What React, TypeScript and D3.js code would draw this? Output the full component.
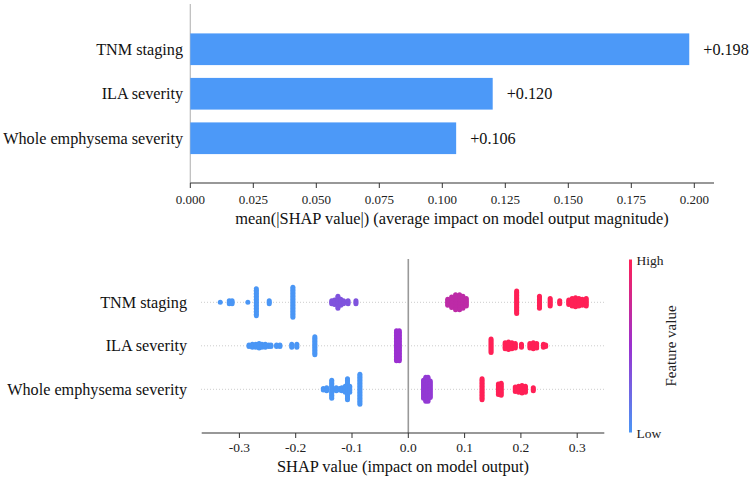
import React, { useEffect } from "react";
import * as d3 from "d3";

// ---- Top bar chart data ----
const barFeatures = ["TNM staging", "ILA severity", "Whole emphysema severity"];
const barValues = [0.198, 0.12, 0.1055];
const barLabels = ["+0.198", "+0.120", "+0.106"];
const barTicks = [0, 0.025, 0.05, 0.075, 0.1, 0.125, 0.15, 0.175, 0.2];

// ---- Beeswarm data: [shap value, number of points, feature value (0 low..1 high)] ----
const tnmClusters: [number, number, number][] = [
  [-0.334, 1, 0], [-0.318, 3, 0], [-0.313, 3, 0], [-0.285, 1, 0], [-0.27, 19, 0],
  [-0.247, 3, 0], [-0.205, 21, 0],
  [-0.136, 3, 0.33], [-0.131, 4, 0.33], [-0.125, 9, 0.33], [-0.12, 5, 0.33], [-0.115, 3, 0.33],
  [-0.107, 3, 0.33], [-0.093, 3, 0.33],
  [0.07, 5, 0.67], [0.077, 8, 0.67], [0.084, 11, 0.67], [0.091, 11, 0.67], [0.097, 9, 0.67], [0.103, 6, 0.67],
  [0.1925, 16, 1], [0.233, 9, 1], [0.252, 6, 1], [0.269, 3, 1], [0.285, 4, 1], [0.291, 6, 1],
  [0.297, 7, 1], [0.303, 6, 1], [0.309, 5, 1], [0.316, 6, 1],
];
const ilaClusters: [number, number, number][] = [
  [-0.283, 2, 0], [-0.277, 3, 0], [-0.271, 3, 0], [-0.265, 4, 0], [-0.26, 3, 0], [-0.254, 3, 0],
  [-0.248, 2, 0], [-0.244, 2, 0], [-0.234, 2, 0], [-0.228, 2, 0], [-0.207, 3, 0], [-0.198, 3, 0],
  [-0.166, 13, 0],
  [-0.021, 21, 0.5], [-0.016, 21, 0.5],
  [0.147, 10, 1], [0.172, 5, 1], [0.178, 6, 1], [0.184, 5, 1], [0.19, 4, 1], [0.201, 3, 1],
  [0.216, 4, 1], [0.222, 5, 1], [0.228, 4, 1], [0.24, 3, 1], [0.244, 2, 1],
];
const wholeClusters: [number, number, number][] = [
  [-0.151, 2, 0], [-0.145, 3, 0], [-0.136, 13, 0], [-0.128, 3, 0], [-0.122, 2, 0], [-0.118, 3, 0],
  [-0.112, 5, 0], [-0.108, 15, 0], [-0.104, 5, 0], [-0.086, 21, 0],
  [0.027, 13, 0.45], [0.031, 17, 0.45], [0.035, 17, 0.45], [0.039, 12, 0.45],
  [0.131, 15, 1], [0.16, 8, 1], [0.165, 9, 1], [0.19, 4, 1], [0.196, 5, 1], [0.202, 6, 1],
  [0.208, 5, 1], [0.222, 3, 1],
];
const swarmFeatures = ["TNM staging", "ILA severity", "Whole emphysema severity"];
const swarmData = [tnmClusters, ilaClusters, wholeClusters];
const swarmTicks = [-0.3, -0.2, -0.1, 0, 0.1, 0.2, 0.3];

const FONT = "'Liberation Serif', 'Times New Roman', serif";
const BAR_COLOR = "#4c99f8";

export default function App() {
  useEffect(() => {
    document.body.style.margin = "0";
  }, []);

  // top chart scales
  const xTop = d3.scaleLinear().domain([0, 0.2]).range([190.3, 694.3]);
  const yTop = d3.scaleBand().domain(barFeatures).range([27, 160.5]).paddingInner(0.288).paddingOuter(0.144);

  // bottom chart scales
  const xBot = d3.scaleLinear().domain([-0.3, 0.3]).range([239.4, 577.2]);
  const yBot = d3.scalePoint().domain(swarmFeatures).range([302.3, 389.3]);
  const color = d3
    .scaleLinear<string>()
    .domain([0, 0.5, 1])
    .range(["#4a96f5", "#9b30d0", "#ff2056"])
    .interpolate(d3.interpolateRgb);

  const step = 1.5;
  const r = 2.5;

  const dots: { x: number; y: number; c: string; key: string }[] = [];
  swarmData.forEach((clusters, fi) => {
    const cy = yBot(swarmFeatures[fi])!;
    clusters.forEach(([v, n, fv], ci) => {
      for (let k = 0; k < n; k++) {
        const off = (k - (n - 1) / 2) * step;
        dots.push({ x: xBot(v), y: cy + off, c: color(fv), key: `${fi}-${ci}-${k}` });
      }
    });
  });

  const gradStops = d3.range(0, 1.0001, 0.1);

  return (
    <svg
      width={750}
      height={477}
      style={{ display: "block", position: "absolute", left: 0, top: 0, background: "#fff" }}
      fontFamily={FONT}
    >
      <defs>
        <linearGradient id="cbar" x1="0" y1="1" x2="0" y2="0">
          {gradStops.map((t) => (
            <stop key={t} offset={`${t * 100}%`} stopColor={color(t)} />
          ))}
        </linearGradient>
      </defs>

      {/* ---------- Top bar chart ---------- */}
      <line x1={190.3} x2={190.3} y1={4} y2={183} stroke="#bbb" strokeWidth={1.2} />
      {barFeatures.map((f, i) => (
        <g key={f}>
          <rect
            x={xTop(0)}
            y={yTop(f)!}
            width={xTop(barValues[i]) - xTop(0)}
            height={yTop.bandwidth()}
            fill={BAR_COLOR}
          />
          <text x={183} y={yTop(f)! + yTop.bandwidth() / 2} dy="0.35em" textAnchor="end" fontSize={16.2} fill="#111">
            {f}
          </text>
          <text
            x={xTop(barValues[i]) + 14}
            y={yTop(f)! + yTop.bandwidth() / 2}
            dy="0.35em"
            fontSize={16.2}
            fill="#111"
          >
            {barLabels[i]}
          </text>
        </g>
      ))}
      <line x1={190.3} x2={714} y1={183} y2={183} stroke="#333" strokeWidth={1.2} />
      {barTicks.map((t) => (
        <g key={t}>
          <line x1={xTop(t)} x2={xTop(t)} y1={183} y2={188} stroke="#333" strokeWidth={1} />
          <text x={xTop(t)} y={204} textAnchor="middle" fontSize={13} fill="#222">
            {d3.format(".3f")(t)}
          </text>
        </g>
      ))}
      <text x={452} y={223.5} textAnchor="middle" fontSize={16.4} fill="#111">
        mean(|SHAP value|) (average impact on model output magnitude)
      </text>

      {/* ---------- Bottom beeswarm ---------- */}
      {swarmFeatures.map((f) => (
        <g key={f}>
          <line
            x1={201}
            x2={604}
            y1={yBot(f)!}
            y2={yBot(f)!}
            stroke="#ccc"
            strokeWidth={1}
            strokeDasharray="1,2"
          />
          <text x={187} y={yBot(f)!} dy="0.35em" textAnchor="end" fontSize={16.2} fill="#111">
            {f}
          </text>
        </g>
      ))}
      <line x1={xBot(0)} x2={xBot(0)} y1={259} y2={433} stroke="#999" strokeWidth={1.6} />
      {dots.map((d) => (
        <circle key={d.key} cx={d.x} cy={d.y} r={r} fill={d.c} />
      ))}
      <line x1={201.7} x2={604.3} y1={433} y2={433} stroke="#333" strokeWidth={1.2} />
      {swarmTicks.map((t) => (
        <g key={t}>
          <line x1={xBot(t)} x2={xBot(t)} y1={433} y2={438} stroke="#333" strokeWidth={1} />
          <text x={xBot(t)} y={452} textAnchor="middle" fontSize={13.5} fill="#222">
            {d3.format(".1f")(t).replace("−", "-")}
          </text>
        </g>
      ))}
      <text x={403} y={471.5} textAnchor="middle" fontSize={16.4} fill="#111">
        SHAP value (impact on model output)
      </text>

      {/* colorbar */}
      <rect x={629} y={259.5} width={3} height={173} fill="url(#cbar)" />
      <text x={636.5} y={264.5} fontSize={13.5} fill="#222">
        High
      </text>
      <text x={636.5} y={437.5} fontSize={13.5} fill="#222">
        Low
      </text>
      <text
        transform="translate(676,346) rotate(-90)"
        textAnchor="middle"
        fontSize={15}
        fill="#222"
      >
        Feature value
      </text>
    </svg>
  );
}
